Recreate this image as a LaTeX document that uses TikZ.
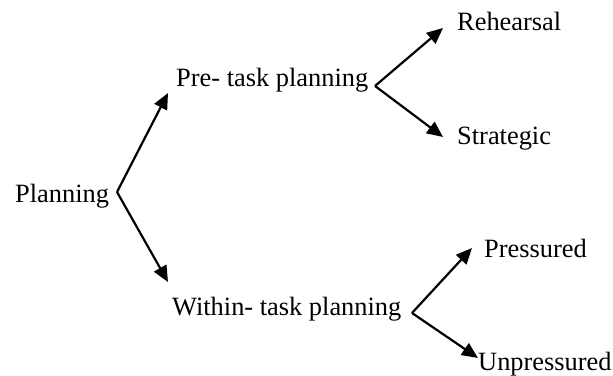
\documentclass[tikz,border=0pt]{standalone}
\usepackage{fontspec}
\setmainfont{Liberation Serif}
\usetikzlibrary{arrows.meta}
\begin{document}
\begin{tikzpicture}[x=1pt,y=-1pt,
  lbl/.style={anchor=base west,inner sep=0pt,font=\fontsize{26.4}{30}\selectfont},
  arr/.style={line width=2.2pt,-{Triangle[length=16pt,width=14pt]}}]
\useasboundingbox (0,0) rectangle (613,375);
% text nodes
\node[lbl] (plan) at (15,202) {Planning};
\node[lbl] (pre) at (176,86) {Pre- task planning};
\node[lbl] (within) at (172,315) {Within- task planning};
\node[lbl] (reh) at (457,30) {Rehearsal};
\node[lbl] (strat) at (457,144) {Strategic};
\node[lbl] (press) at (484,257) {Pressured};
\node[lbl] (unpress) at (478,370) {Unpressured};
% fork vertices and arrow ends
\coordinate (v0) at (117,192);
\coordinate (v1) at (375,86);
\coordinate (v2) at (412,313);
\coordinate (tpre) at (168,93);
\coordinate (twithin) at (168,282);
\coordinate (treh) at (443,28);
\coordinate (tstrat) at (443,137);
\coordinate (tpress) at (472,248);
\coordinate (tunpress) at (478,358);
% connectors
\draw[arr] (v0) -- (tpre);
\draw[arr] (v0) -- (twithin);
\draw[arr] (v1) -- (treh);
\draw[arr] (v1) -- (tstrat);
\draw[arr] (v2) -- (tpress);
\draw[arr] (v2) -- (tunpress);
\end{tikzpicture}
\end{document}
